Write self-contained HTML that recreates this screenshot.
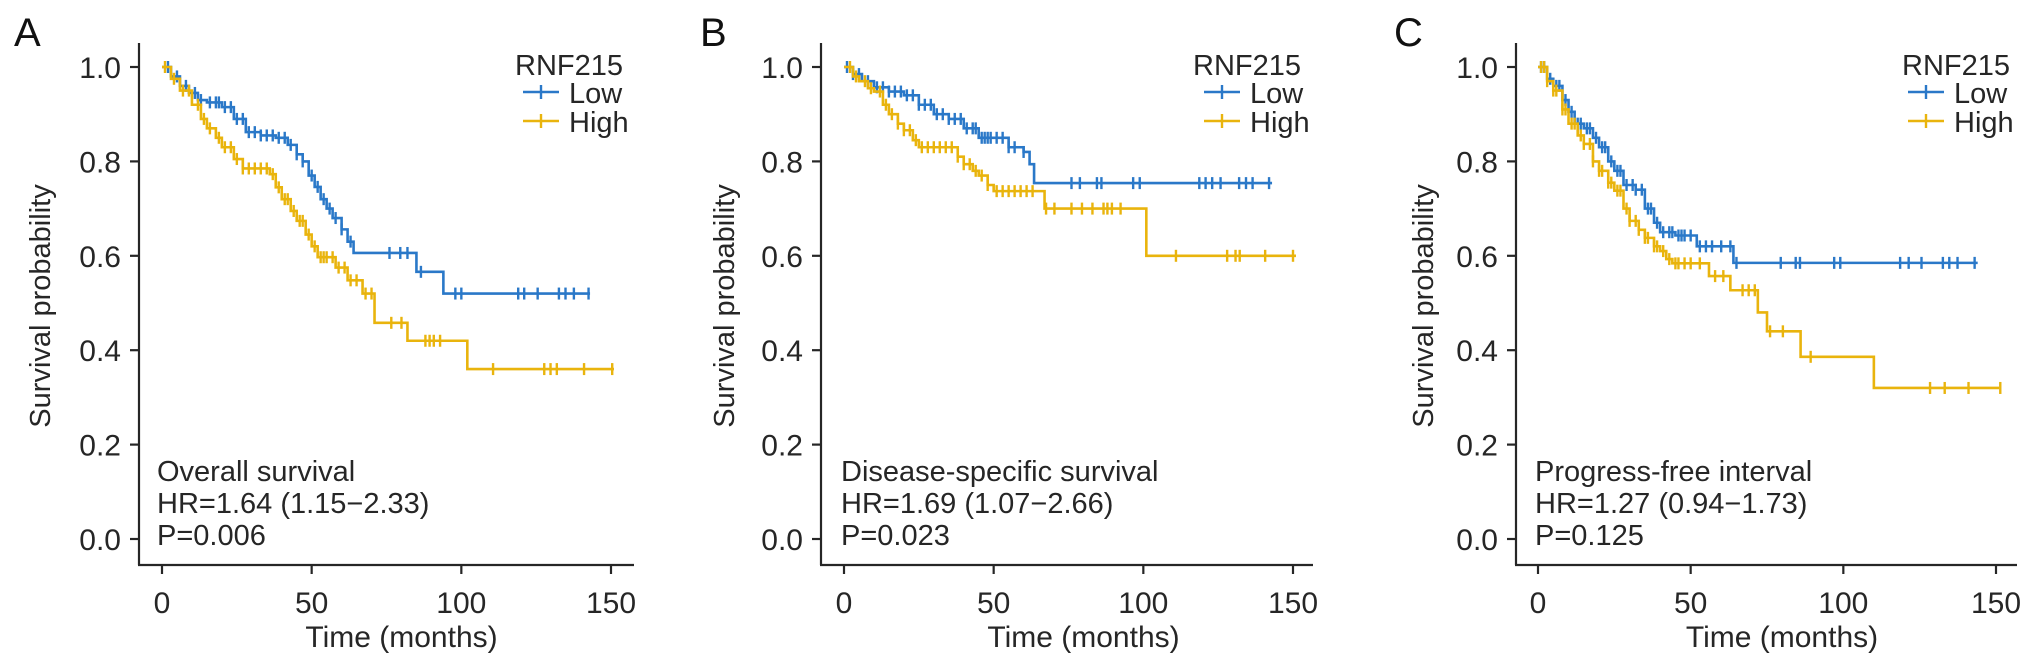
<!DOCTYPE html>
<html><head><meta charset="utf-8"><style>
html,body{margin:0;padding:0;background:#fff;}
svg{display:block;font-family:"Liberation Sans",Arial,sans-serif;}
</style></head><body>
<svg id="fig" width="2032" height="664" viewBox="0 0 2032 664"></svg>
<script>
// ---- data: Kaplan-Meier knots [time, survival] and censor times ----
const panelLetters = ["A","B","C"];
const panelTitles = ["Overall survival","Disease-specific survival","Progress-free interval"];
const panelHR = ["HR=1.64 (1.15\u22122.33)","HR=1.69 (1.07\u22122.66)","HR=1.27 (0.94\u22121.73)"];
const panelP = ["P=0.006","P=0.023","P=0.125"];
const xTicks = [0,50,100,150];
const yTicks = [0,0.2,0.4,0.6,0.8,1.0];
const yTickLabels = ["0.0","0.2","0.4","0.6","0.8","1.0"];

const aLowT = [0,3,6,9,12,15,20,24,28,33,38,42,45,47,49,51,53,55,57,60,62,64,85,94,143];
const aLowS = [1,0.98,0.96,0.945,0.93,0.925,0.915,0.89,0.862,0.855,0.85,0.835,0.815,0.80,0.77,0.746,0.72,0.70,0.68,0.656,0.63,0.606,0.566,0.52,0.52];
const aLowC = [2,5,8,11,13,16,18,19,21,23,25,27,29,31,33,35,37,39,41,43,45,47,50,52,54,56,58,60,63,76,79.6,82,86.5,98,100,119,121,125.5,132.6,134.8,137.6,142.5];
const aHighT = [0,3,6,10,13,15,18,20,24,27,36,38,40,43,45,48,50,52,58,62,67,71,82,102,151];
const aHighS = [1,0.975,0.95,0.92,0.89,0.87,0.85,0.83,0.805,0.785,0.773,0.745,0.72,0.695,0.674,0.645,0.62,0.597,0.575,0.548,0.52,0.458,0.42,0.36,0.36];
const aHighC = [1,4,7,9,12,14,16,19,21,23,25,27,29,31,33,35,37,39,41,42,44,46,47,49,51,53,54,55,57,59,61,63,65,68,70,76.6,80,88,89.4,90.8,92.9,110.6,127.7,129.8,131.9,141,150.4];

const bLowT = [0,3,6,10,15,20,25,30,35,40,45,50,55,60,62,63.5,143];
const bLowS = [1,0.985,0.97,0.957,0.948,0.94,0.92,0.90,0.89,0.87,0.85,0.85,0.83,0.82,0.794,0.754,0.754];
const bLowC = [1,3,5,8,11,13,15,17,19,21,23,25,27,29,31,33,35,37,39,41,43,44,46,47,48,49,51,53,55,57,60,76,78.8,84.5,86,96.6,98.8,118.7,120.8,123,125.8,132,134.3,136.5,142];
const bHighT = [0,3,5,8,10,13,15,18,20,23,25,36,38,40,43,45,48,50,67,101,151];
const bHighS = [1,0.98,0.97,0.955,0.948,0.92,0.90,0.88,0.866,0.845,0.83,0.83,0.81,0.794,0.78,0.77,0.75,0.737,0.70,0.60,0.60];
const bHighC = [2,4,7,9,12,14,16,18,20,22,24,26,28,30,32,34,36,38,40,42,44,46,48,51,53,55,57,59,61,63,67.5,70.3,76,79.5,83,86.7,88,89.5,92.4,110.9,128,130.8,132.2,140.7,150];

const cLowT = [0,3,5,8,10,12,15,18,20,23,25,28,32,35,38,40,45,52,64,144];
const cLowS = [1,0.975,0.96,0.93,0.905,0.88,0.87,0.85,0.83,0.80,0.78,0.75,0.74,0.70,0.67,0.65,0.643,0.62,0.585,0.585];
const cLowC = [1,2,4,6,7,9,11,13,14,16,17,19,21,22,24,26,27,29,31,32,34,36,37,39,41,43,44,46,47,48,50,53,55,57,60,63,65,79.5,84.4,85.8,97,99,118.6,121.4,125.6,132.6,134.7,137.4,143];
const cHighT = [0,3,5,8,10,13,15,18,20,23,25,28,30,33,35,38,40,42,44,56,63,72,75,86,110,151];
const cHighS = [1,0.97,0.95,0.91,0.88,0.855,0.837,0.80,0.78,0.755,0.738,0.70,0.674,0.655,0.638,0.62,0.61,0.593,0.584,0.557,0.527,0.48,0.44,0.386,0.32,0.32];
const cHighC = [1,2,3,5,6,8,9,11,12,14,15,17,18,20,21,23,24,26,27,29,30,32,33,35,36,38,39,41,43,45,46,48,50,53,58,60.7,67,69,71,76,80.2,89.3,128.4,133.2,141,151.4];

// ---- layout ----
const panels = [
  {axisX:139, x0:162, x150:611, xEnd:634, letterX:14, ylabX:40, legX:515, legLineX:523, annX:157,
   low:[aLowT,aLowS,aLowC], high:[aHighT,aHighS,aHighC]},
  {axisX:821, x0:844, x150:1293, xEnd:1313, letterX:700, ylabX:724, legX:1193, legLineX:1204, annX:841,
   low:[bLowT,bLowS,bLowC], high:[bHighT,bHighS,bHighC]},
  {axisX:1516, x0:1538, x150:1996, xEnd:2017, letterX:1394, ylabX:1423, legX:1902, legLineX:1908, annX:1535,
   low:[cLowT,cLowS,cLowC], high:[cHighT,cHighS,cHighC]}
];
const Y1 = 67, Y0 = 539, XAXISY = 565, YTOP = 43;
const BLUE = "#2a78c8", GOLD = "#e9b40d", INK = "#262626";
const NS = "http://www.w3.org/2000/svg";
const svg = document.getElementById("fig");
function mk(tag, attrs, parent){const e=document.createElementNS(NS,tag);for(const k in attrs)e.setAttribute(k,attrs[k]);(parent||svg).appendChild(e);return e;}
function yScale(s){return Y1 + (1-s)*(Y0-Y1);}
function survAt(T,S,t){let v=S[0];for(let i=0;i<T.length;i++){if(T[i]<=t)v=S[i];}return v;}

panels.forEach((p,pi)=>{
  const xs = t => p.x0 + t/150*(p.x150-p.x0);
  const g = mk("g",{});
  
  
  const L = mk("text",{x:p.letterX,y:46,"font-size":40,fill:"#111"},g); L.textContent=panelLetters[pi];
  
  
  // axes
  const ya = mk("line",{x1:p.axisX,y1:YTOP,x2:p.axisX,y2:XAXISY,stroke:INK,"stroke-width":2.2},g);
  
  
  const xa = mk("line",{x1:p.axisX-1,y1:XAXISY,x2:p.xEnd,y2:XAXISY,stroke:INK,"stroke-width":2.2},g);
  
  
  yTicks.forEach((v,i)=>{
    const y=yScale(v);
    mk("line",{x1:p.axisX-9,y1:y,x2:p.axisX,y2:y,stroke:INK,"stroke-width":2.2},g);
    const t=mk("text",{x:p.axisX-18,y:y+11,"font-size":30,"text-anchor":"end",fill:INK},g);
    t.textContent=yTickLabels[i];
    
    
  });
  xTicks.forEach(v=>{
    const x=xs(v);
    mk("line",{x1:x,y1:XAXISY,x2:x,y2:XAXISY+9,stroke:INK,"stroke-width":2.2},g);
    const t=mk("text",{x:x,y:613,"font-size":30,"text-anchor":"middle",fill:INK},g);
    t.textContent=String(v);
    
    
  });
  const xt=mk("text",{x:(p.x0+p.x150)/2+15,y:647,"font-size":30,"text-anchor":"middle",fill:INK},g);
  xt.textContent="Time (months)";
  
  
  const yt=mk("text",{x:0,y:0,"font-size":29,"text-anchor":"middle",fill:INK,transform:`translate(${p.ylabX+10},306) rotate(-90)`},g);
  yt.textContent="Survival probability";
  
  
  // curves
  [[p.low,BLUE,'low'],[p.high,GOLD,'high']].forEach(([d,col,nm])=>{
    const [T,S,C]=d;
    let path=`M${xs(T[0])},${yScale(S[0])}`;
    for(let i=1;i<T.length;i++){path+=` H${xs(T[i])} V${yScale(S[i])}`;}
    const pe=mk("path",{d:path,fill:"none",stroke:col,"stroke-width":2.6},g);
    
    
    C.forEach(c=>{
      const x=xs(c), y=yScale(survAt(T,S,c));
      const m=mk("line",{x1:x,y1:y-6,x2:x,y2:y+6,stroke:col,"stroke-width":2.4},g);
      
      
    });
  });
  // legend
  const lt=mk("text",{x:p.legX,y:75,"font-size":29,fill:INK},g); lt.textContent="RNF215";
  
  
  [["Low",BLUE,92],["High",GOLD,121]].forEach(([lab,col,y])=>{
    const lg=mk("g",{},g);
    
    
    mk("line",{x1:p.legLineX,y1:y,x2:p.legLineX+36,y2:y,stroke:col,"stroke-width":2.6},lg);
    mk("line",{x1:p.legLineX+18,y1:y-7,x2:p.legLineX+18,y2:y+7,stroke:col,"stroke-width":2.4},lg);
    const tx=mk("text",{x:p.legLineX+46,y:y+11,"font-size":29,fill:INK},lg); tx.textContent=lab;
  });
  // annotation
  const ann=[[panelTitles[pi],481],[panelHR[pi],513],[panelP[pi],545]];
  ann.forEach(([s,y],k)=>{
    const t=mk("text",{x:p.annX,y:y,"font-size":29,fill:INK},g); t.textContent=s;
    
    
  });
});
</script>
</body></html>
